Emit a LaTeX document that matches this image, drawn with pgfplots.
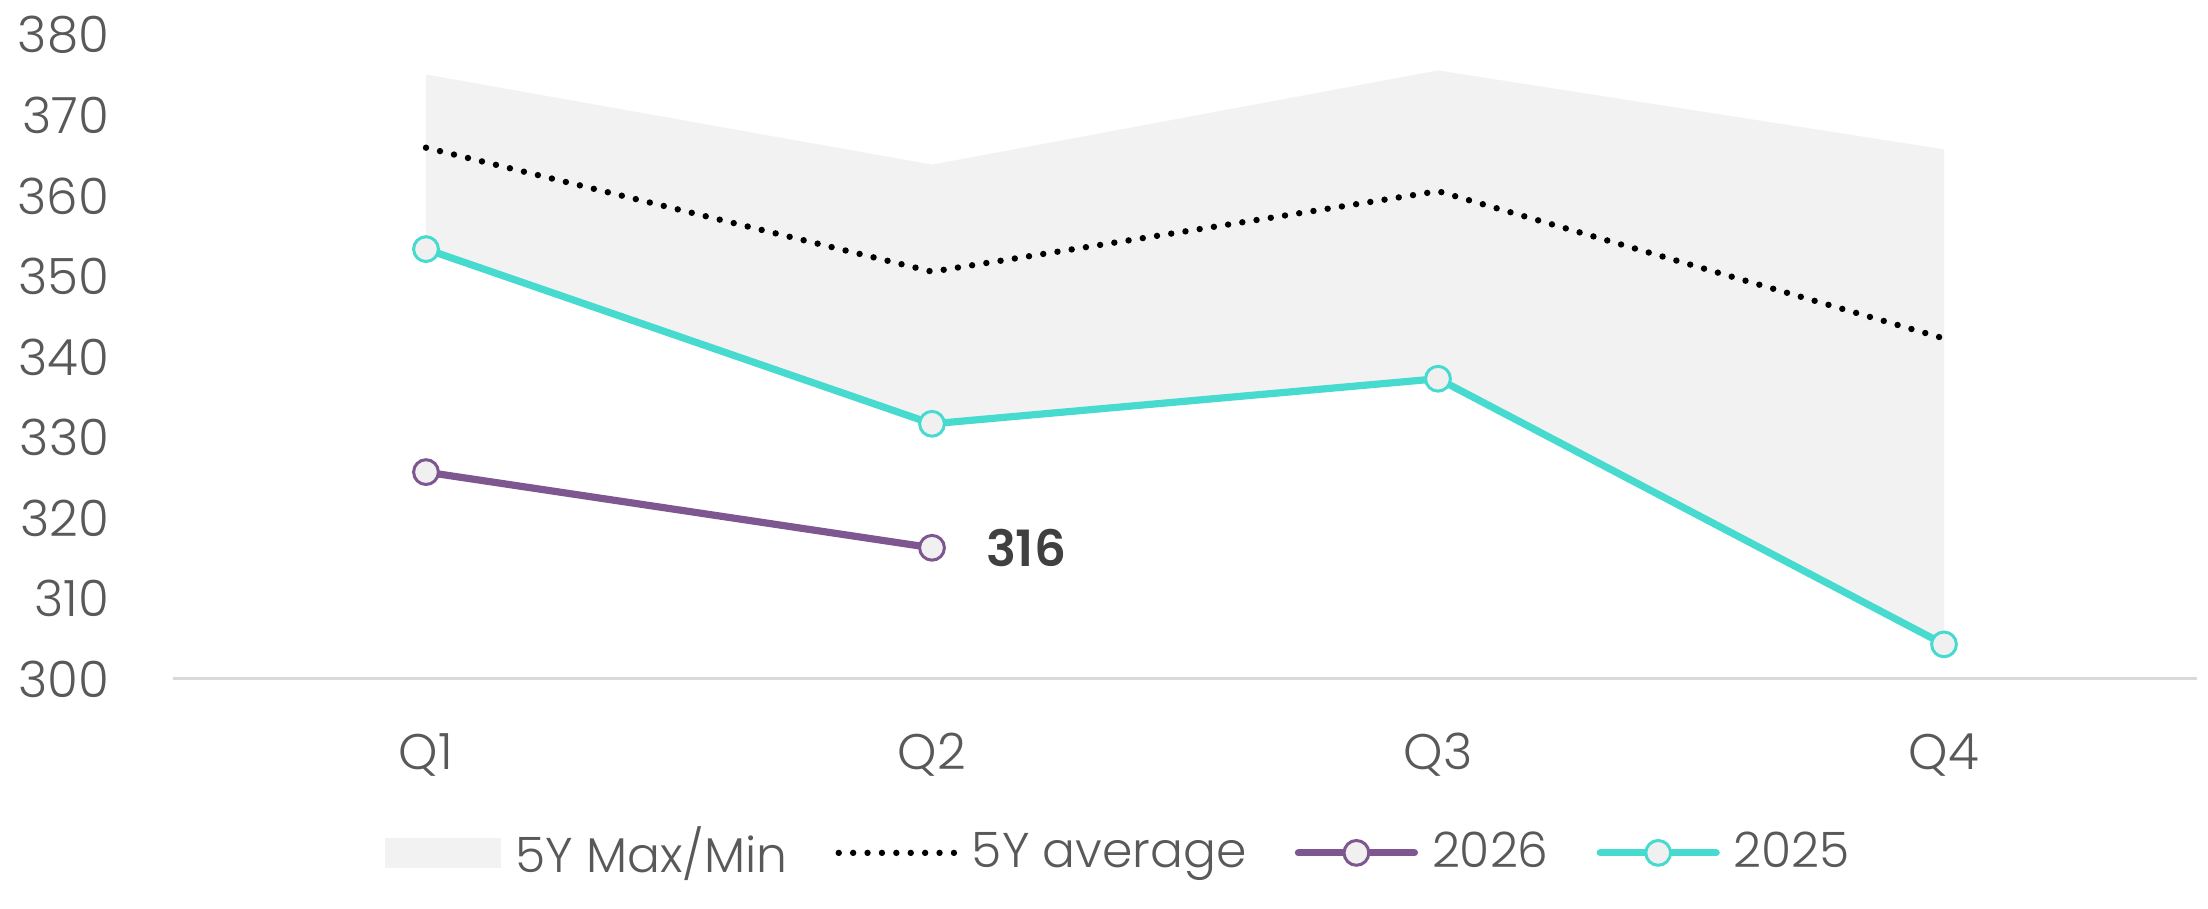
\documentclass[border=0pt]{standalone}
\usepackage{fontspec}
\setmainfont{Poppins}[UprightFont=* Light, BoldFont=* SemiBold]
\usepackage{pgfplots}
\pgfplotsset{compat=1.18}
\definecolor{band}{HTML}{F2F2F2}
\definecolor{cyanl}{HTML}{47DBD0}
\definecolor{purp}{HTML}{7F5790}
\definecolor{mfill}{HTML}{F0F0F0}
\definecolor{txt}{HTML}{595959}
\definecolor{axl}{HTML}{D9D9D9}
\pgfplotsset{
  mylineleg/.style={legend image code/.code={\draw[mark repeat=2,mark phase=2,##1] plot coordinates {(0pt,0pt) (14.5pt,0pt) (29pt,0pt)};}},
  mydotleg/.style={legend image code/.code={\draw[##1] (0pt,0pt) -- (29pt,0pt);}},
  myarealeg/.style={legend image code/.code={\fill[band] (0pt,-3.7pt) rectangle (29pt,3.7pt);}},
}
\begin{document}
\begin{tikzpicture}
\useasboundingbox (-43.25pt,-57.5pt) rectangle (508.75pt,169.75pt);
\begin{axis}[
  at={(0,0)}, anchor=south west,
  scale only axis, width=506pt, height=161pt,
  xmin=-0.5, xmax=3.5, ymin=300, ymax=380,
  axis x line*=bottom, axis y line*=left,
  x axis line style={axl, line width=0.75pt},
  y axis line style={draw=none},
  xtick={0,1,2,3}, xticklabels={Q1,Q2,Q3,Q4},
  ytick={300,310,...,380},
  major tick length=0pt,
  tick label style={font=\fontsize{12.5}{14}\selectfont, text=txt},
  /pgf/number format/assume math mode=true,
  xticklabel style={anchor=base, inner sep=0pt, yshift=-22.7pt},
  yticklabel style={anchor=east, inner sep=0pt, xshift=-15.75pt},
  clip=false,
  legend columns=4,
  legend style={draw=none, fill=none, inner sep=0pt,
    at={(0.4667,-0.27)}, anchor=center,
    font=\fontsize{12.2}{14}\selectfont, text=txt,
    nodes={inner sep=0pt},
    /tikz/every odd column/.append style={column sep=3.5pt},
    /tikz/every even column/.append style={column sep=12pt}},
]
\addplot[fill=band, draw=none, myarealeg]
  coordinates {(0,375.1) (1,363.9) (2,375.6) (3,365.8) (3,304.4) (2,337.3) (1,331.7) (0,353.4)} -- cycle;
\addlegendentry{5Y Max/Min}
\addplot[black, line width=1.6pt, line cap=round, dash pattern=on 0pt off 3.6pt, mydotleg]
  coordinates {(0,366.0) (1,350.6) (2,360.6) (3,342.3)};
\addlegendentry{5Y average}
\addplot[purp, line width=1.8pt, line cap=round, mark=*, mark size=3.1pt,
  mark options={fill=mfill, draw=purp, line width=0.75pt}, mylineleg]
  coordinates {(0,325.7) (1,316.3)};
\addlegendentry{2026}
\addplot[cyanl, line width=1.8pt, line cap=round, mark=*, mark size=3.1pt,
  mark options={fill=mfill, draw=cyanl, line width=0.75pt}, mylineleg]
  coordinates {(0,353.4) (1,331.7) (2,337.3) (3,304.3)};
\addlegendentry{2025}
\node[anchor=west, inner sep=0pt, xshift=13.3pt, font=\fontsize{12.5}{14}\selectfont\bfseries, text={rgb,255:red,64;green,64;blue,64}] at (axis cs:1,316.3) {316};
\end{axis}
\end{tikzpicture}
\end{document}
